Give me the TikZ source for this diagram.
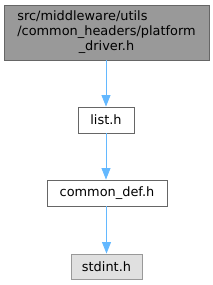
\documentclass[tikz,border=0pt]{standalone}
\usepackage{fontspec}
\setmainfont{DejaVu Sans}
\usetikzlibrary{arrows.meta}
\definecolor{incgrey}{HTML}{999999}
\definecolor{incdark}{HTML}{666666}
\definecolor{inclight}{HTML}{E0E0E0}
\definecolor{incblue}{HTML}{63B8FF}
\tikzset{
  bx/.style={rectangle, align=center, inner sep=0pt, line width=0.9pt, font=\fontsize{12.9}{15}\selectfont},
  cur/.style={bx, draw=incdark, fill=incgrey},
  hdr/.style={bx, draw=incdark, fill=white},
  sys/.style={bx, draw=incgrey, fill=inclight},
  arr/.style={-{Triangle[length=11.5pt, width=9pt]}, line width=0.9pt, color=incblue},
}
\begin{document}
\begin{tikzpicture}[x=1pt, y=-1pt]
    \useasboundingbox (0,0) rectangle (213,285);
    \node[cur, minimum width=205pt, minimum height=55pt] (drv) at (106.5,32.5) {\begin{tabular}{@{}l@{}}src/middleware/utils\\/common\_headers/platform\\\multicolumn{1}{@{}c@{}}{\_driver.h}\end{tabular}};
    \node[hdr, minimum width=56pt, minimum height=26pt] (lst) at (106,120) {list.h};
    \node[hdr, minimum width=120pt, minimum height=26pt] (cdef) at (107,193) {common\_def.h};
    \node[sys, minimum width=71pt, minimum height=25pt] (sint) at (106.5,266.5) {stdint.h};
    \draw[arr] (drv.south -| lst.north) -- (lst.north);
    \draw[arr] (lst.south) -- (lst.south |- cdef.north);
    \draw[arr] (cdef.south -| sint.north) -- (sint.north);
  \end{tikzpicture}
\end{document}
